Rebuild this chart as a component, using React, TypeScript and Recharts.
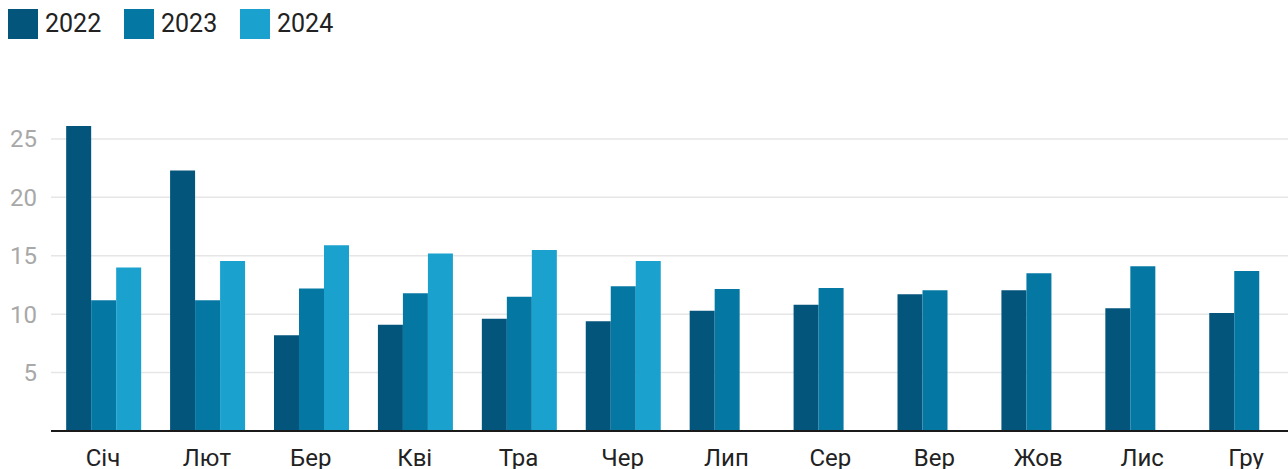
import React from 'react';
import { BarChart, Bar, XAxis, YAxis, CartesianGrid } from 'recharts';

const months = ['Січ', 'Лют', 'Бер', 'Кві', 'Тра', 'Чер', 'Лип', 'Сер', 'Вер', 'Жов', 'Лис', 'Гру'];
const v2022 = [26.1, 22.3, 8.2, 9.1, 9.6, 9.4, 10.3, 10.8, 11.7, 12.05, 10.5, 10.1];
const v2023 = [11.2, 11.2, 12.2, 11.8, 11.5, 12.4, 12.15, 12.25, 12.05, 13.5, 14.1, 13.7];
const v2024: (number | null)[] = [14.0, 14.55, 15.9, 15.2, 15.5, 14.55, null, null, null, null, null, null];
const yTicks = [5, 10, 15, 20, 25];

const seriesKeys = ['2022', '2023', '2024'];
const seriesColors = ['#03557b', '#0478a3', '#1ba1cd'];

const data = months.map((m, i) => ({
  month: m,
  '2022': v2022[i],
  '2023': v2023[i],
  '2024': v2024[i],
}));

export default function App() {
  return (
    <div
      style={{
        position: 'absolute',
        left: 0,
        top: 0,
        width: 1288,
        height: 469,
        overflow: 'hidden',
        fontFamily: 'Roboto, sans-serif',
      }}
    >
      <div style={{ position: 'absolute', left: 8, top: 9, display: 'flex', zIndex: 1 }}>
        {seriesKeys.map((k, i) => (
          <div key={k} style={{ display: 'flex', alignItems: 'center', width: 116 }}>
            <div style={{ width: 30, height: 30, background: seriesColors[i] }} />
            <span style={{ marginLeft: 7, fontSize: 25, color: '#222', lineHeight: '30px' }}>{k}</span>
          </div>
        ))}
      </div>
      <BarChart
        width={1298}
        height={469}
        data={data}
        margin={{ top: 115.6, right: 0, bottom: 0, left: 0 }}
        barCategoryGap="14.6%"
        barGap={0}
      >
        <CartesianGrid vertical={false} stroke="#e6e6e6" strokeWidth={1.5} horizontalValues={yTicks} />
        <XAxis
          dataKey="month"
          height={38}
          tickLine={false}
          tickSize={0}
          tickMargin={18}
          axisLine={{ stroke: '#1a1a1a', strokeWidth: 2 }}
          tick={{ fill: '#222', fontSize: 24, fontFamily: 'Roboto, sans-serif' }}
          interval={0}
        />
        <YAxis
          width={51}
          domain={[0, 27]}
          ticks={yTicks}
          axisLine={false}
          tickLine={false}
          tickSize={0}
          tickMargin={14}
          tick={{ fill: '#a8a8a8', fontSize: 24, fontFamily: 'Roboto, sans-serif' }}
        />
        {seriesKeys.map((k, i) => (
          <Bar key={k} dataKey={k} fill={seriesColors[i]} isAnimationActive={false} />
        ))}
      </BarChart>
    </div>
  );
}
